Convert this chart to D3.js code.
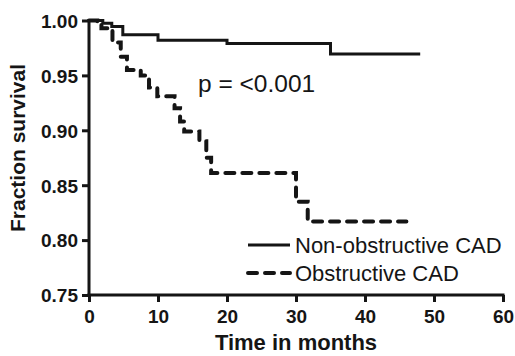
<!DOCTYPE html>
<html>
<head>
<meta charset="utf-8">
<script src="https://cdn.jsdelivr.net/npm/d3@7"></script>
<style>
html,body{margin:0;padding:0;background:#fff;}
svg{display:block;}
</style>
</head>
<body>
<svg id="chart" width="515" height="356"></svg>
<script>
// ---- data ----
const xTicks = [0, 10, 20, 30, 40, 50, 60];
const yTicks = [0.75, 0.80, 0.85, 0.90, 0.95, 1.00];
const seriesNames = ["Non-obstructive CAD", "Obstructive CAD"];
// Kaplan-Meier step points: time (months) and survival fraction
const nonObsTime = [0, 2, 3.3, 4.9, 10, 20, 35, 48];
const nonObsSurv = [1.000, 0.9975, 0.9945, 0.987, 0.982, 0.979, 0.9695, 0.9695];
const obsTime = [0, 1.2, 1.8, 3.4, 4.6, 5.5, 7.5, 8.7, 9.9, 12.4, 13.2, 13.8, 16, 17, 17.7, 30, 31.7, 46];
const obsSurv = [1.000, 0.997, 0.993, 0.980, 0.967, 0.955, 0.950, 0.939, 0.931, 0.920, 0.908, 0.899, 0.890, 0.875, 0.861, 0.835, 0.817, 0.817];
const pText = "p = <0.001";
const xTitle = "Time in months";
const yTitle = "Fraction survival";

const svg = d3.select("#chart");
const ink = "#151515";
const x = d3.scaleLinear().domain([0, 60]).range([89, 503]);
const y = d3.scaleLinear().domain([0.75, 1.0]).range([295, 20.5]);

// axes
const xAxis = d3.axisBottom(x).tickValues(xTicks).tickSize(7).tickPadding(4).tickFormat(d3.format("d"));
const yAxis = d3.axisLeft(y).tickValues(yTicks).tickSize(7).tickPadding(4).tickFormat(d3.format(".2f"));

const gx = svg.append("g").attr("transform", `translate(0,${y(0.75)})`).call(xAxis);
const gy = svg.append("g").attr("transform", `translate(${x(0)},0)`).call(yAxis);
[gx, gy].forEach(g => {
  g.select(".domain").attr("stroke", ink).attr("stroke-width", 3).attr("stroke-linecap", "square");
  g.selectAll(".tick line").attr("stroke", ink).attr("stroke-width", 3);
  g.selectAll(".tick text").attr("fill", ink)
    .style("font-family", "Liberation Sans, Arial, sans-serif")
    .style("font-weight", "bold").style("font-size", "19px");
});
gx.select(".domain").attr("d", `M${x(0)},0H${x(60)}`);
gy.select(".domain").attr("d", `M0,${y(1.0)}V${y(0.75)}`);
gx.selectAll(".tick text").attr("dy", "0.88em");
gy.selectAll(".tick text").attr("dy", "0.36em");

// titles
svg.append("text").attr("x", 296).attr("y", 350).attr("text-anchor", "middle")
  .style("font-family", "Liberation Sans, Arial, sans-serif").style("font-weight", "bold")
  .style("font-size", "22px").attr("fill", ink).text(xTitle);
svg.append("text").attr("transform", "translate(25,148) rotate(-90)").attr("text-anchor", "middle")
  .style("font-family", "Liberation Sans, Arial, sans-serif").style("font-weight", "bold")
  .style("font-size", "21px").attr("fill", ink).text(yTitle);

// curves
const line = d3.line().x(d => x(d[0])).y(d => y(d[1])).curve(d3.curveStepAfter);
const nonObs = nonObsTime.map((t, i) => [t, nonObsSurv[i]]);
const obs = obsTime.map((t, i) => [t, obsSurv[i]]);

svg.append("path").datum(nonObs).attr("d", line).attr("fill", "none")
  .attr("stroke", ink).attr("stroke-width", 3);
svg.append("path").datum(obs).attr("d", line).attr("fill", "none")
  .attr("stroke", ink).attr("stroke-width", 4).attr("stroke-linecap", "round")
  .attr("stroke-dasharray", "9,8");

// p-value
svg.append("text").attr("x", 198).attr("y", 92)
  .style("font-family", "Liberation Sans, Arial, sans-serif").style("font-size", "24.5px")
  .attr("fill", ink).text(pText);

// legend
const legY = [245, 273];
seriesNames.forEach((name, i) => {
  svg.append("line").attr("x1", 248).attr("x2", 290).attr("y1", legY[i]).attr("y2", legY[i])
    .attr("stroke", ink).attr("stroke-width", i === 0 ? 3 : 4)
    .attr("stroke-linecap", i === 0 ? "butt" : "round")
    .attr("stroke-dasharray", i === 0 ? null : "9,8");
  svg.append("text").attr("x", 295).attr("y", legY[i] + 8)
    .style("font-family", "Liberation Sans, Arial, sans-serif").style("font-size", "22px")
    .attr("fill", ink).text(name);
});
</script>
</body>
</html>
